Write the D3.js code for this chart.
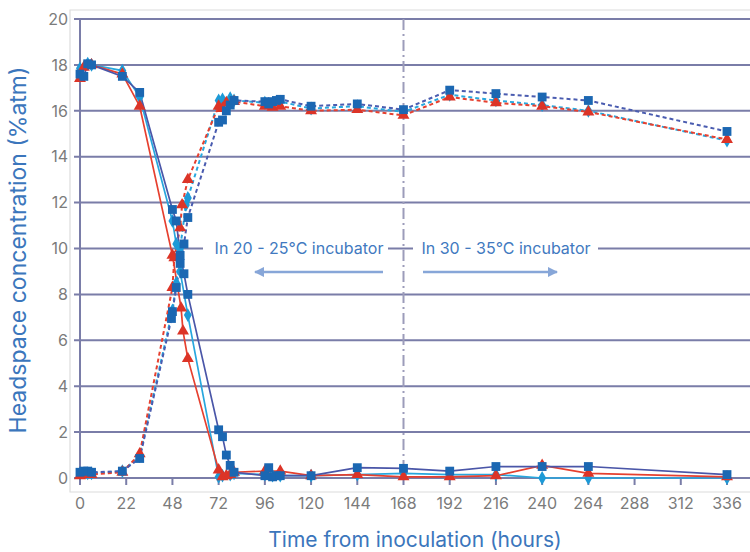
<!DOCTYPE html>
<html>
<head>
<meta charset="utf-8">
<style>
  body { margin: 0; background: #fff; font-family: Inter, "Noto Sans", sans-serif; }
  .grid line { stroke: #7a7da8; stroke-width: 2px; }
  .tick-label { fill: #7b7b7b; font-size: 16px; }
  .axis-title { fill: #3b76bc; font-size: 21px; }
  .note { fill: #4179c0; font-size: 16px; }
</style>
</head>
<body>
<script src="https://cdnjs.cloudflare.com/ajax/libs/d3/7.8.5/d3.min.js"></script>
<script>
// time (hours), concentration (%atm)
var blueO2 = [[0,17.6],[2,17.5],[4,18.05],[6,18.0],[22,17.5],[31,16.8],[48,11.7],[50,11.2],[52,9.7],[54,8.9],[56,8.0],
  [72,2.1],[74,1.8],[76,1.0],[78,0.55],[80,0.25],[96,0.1],[98,0.45],[100,0.05],[102,0.1],[104,0.1],[120,0.1],
  [144,0.45],[168,0.42],[192,0.3],[216,0.5],[240,0.5],[264,0.5],[336,0.15]];
var redO2 = [[0,17.4],[2,17.9],[6,18.0],[22,17.6],[31,16.2],[48,9.7],[52.5,7.4],[53.5,6.4],[56,5.2],
  [72,0.35],[74,0.05],[76,0.1],[78,0.15],[80,0.25],[96,0.3],[104,0.3],[120,0.1],[144,0.15],[168,0.05],
  [192,0.05],[216,0.1],[240,0.55],[264,0.2],[336,0.05]];
var cyanO2 = [[0,17.85],[4,18.05],[6,18.0],[22,17.75],[31,16.6],[48,11.2],[50,10.2],[52,9.0],[56,7.1],
  [72,0.05],[74,0.1],[78,0.15],[80,0.2],[96,0.15],[100,0.1],[104,0.1],[120,0.1],[144,0.15],[168,0.2],
  [192,0.15],[216,0.15],[240,0.0],[264,0.0],[336,0.0]];
var blueCO2 = [[0,0.25],[2,0.3],[4,0.3],[6,0.25],[22,0.3],[31,0.85],[47.5,6.95],[48,7.25],[50,8.3],[52,9.35],[54,10.2],[56,11.35],
  [72,15.5],[74,15.6],[76,16.0],[78,16.25],[80,16.45],[96,16.4],[98,16.3],[100,16.4],[102,16.45],[104,16.5],
  [120,16.2],[144,16.3],[168,16.05],[192,16.9],[216,16.75],[240,16.6],[264,16.45],[336,15.1]];
var redCO2 = [[0,0.1],[2,0.15],[6,0.15],[22,0.25],[31,1.05],[48,8.3],[49,9.6],[52,10.9],[53,11.9],[56,13.0],
  [72,16.2],[74,16.1],[76,16.35],[80,16.4],[96,16.2],[100,16.15],[104,16.2],[120,16.0],[144,16.05],[168,15.8],
  [192,16.6],[216,16.35],[240,16.2],[264,15.95],[336,14.75]];
var cyanCO2 = [[0,0.2],[4,0.2],[6,0.2],[22,0.3],[31,0.95],[48,7.3],[50,8.5],[52,10.0],[55,11.9],[56,12.2],
  [72,16.45],[74,16.5],[78,16.55],[80,16.45],[96,16.35],[100,16.3],[104,16.4],[120,16.1],[144,16.2],[168,15.95],
  [192,16.7],[216,16.45],[240,16.25],[264,16.0],[336,14.7]];

var xTicks = [0,24,48,72,96,120,144,168,192,216,240,264,288,312,336];
var xTickLabels = ["0","22","48","72","96","120","144","168","192","216","240","264","288","312","336"];
var yTicks = [0,2,4,6,8,10,12,14,16,18,20];
var switchHour = 168;

var width = 750, height = 552;

var svg = d3.select("body").append("svg")
    .attr("width", width)
    .attr("height", height);

var x = d3.scaleLinear().domain([0, 336]).range([80, 727]);
var y = d3.scaleLinear().domain([0, 20]).range([478, 19]);

// light frame round the chart area
svg.append("path")
    .attr("d", "M750,10H70V492H750")
    .attr("fill", "none")
    .attr("stroke", "#dcdcdc")
    .attr("stroke-width", 1.2);

// horizontal grid
svg.append("g").attr("class", "grid")
  .selectAll("line").data(yTicks).enter().append("line")
    .attr("x1", 74).attr("x2", width)
    .attr("y1", function(d){ return y(d); })
    .attr("y2", function(d){ return y(d); });

// y axis line and x ticks
svg.append("line")
    .attr("x1", x(0)).attr("x2", x(0))
    .attr("y1", y(20)).attr("y2", y(0))
    .attr("stroke", "#7a7da8").attr("stroke-width", 2);

svg.append("g").attr("class", "grid")
  .selectAll("line").data(xTicks).enter().append("line")
    .attr("x1", function(d){ return x(d); })
    .attr("x2", function(d){ return x(d); })
    .attr("y1", y(0)).attr("y2", y(0) + 7);

svg.append("g").selectAll("text").data(yTicks).enter().append("text")
    .attr("class", "tick-label")
    .attr("x", 68)
    .attr("y", function(d){ return y(d); })
    .attr("dy", "0.36em")
    .attr("text-anchor", "end")
    .text(function(d){ return d; });

svg.append("g").selectAll("text").data(xTicks).enter().append("text")
    .attr("class", "tick-label")
    .attr("x", function(d){ return x(d); })
    .attr("y", 509)
    .attr("text-anchor", "middle")
    .text(function(d, i){ return xTickLabels[i]; });

svg.append("text")
    .attr("class", "axis-title")
    .attr("x", 415).attr("y", 547)
    .attr("text-anchor", "middle")
    .text("Time from inoculation (hours)");

svg.append("text")
    .attr("class", "axis-title")
    .attr("transform", "translate(26,250) rotate(-90)")
    .attr("text-anchor", "middle")
    .style("font-size", "23px")
    .text("Headspace concentration (%atm)");

// incubator change
svg.append("line")
    .attr("x1", x(switchHour)).attr("x2", x(switchHour))
    .attr("y1", y(20)).attr("y2", y(0))
    .attr("stroke", "#9c9cba")
    .attr("stroke-width", 2)
    .attr("stroke-dasharray", "11,4,2,4");

function note(txt, cx, x0, x1){
  svg.append("rect")
      .attr("x", x0).attr("y", y(10) - 10)
      .attr("width", x1 - x0).attr("height", 20)
      .attr("fill", "#fff");
  svg.append("text")
      .attr("class", "note")
      .attr("x", cx).attr("y", y(10))
      .attr("dy", "0.36em")
      .attr("text-anchor", "middle")
      .text(txt);
}
note("In 20 - 25°C incubator", 299, 203, 388);
note("In 30 - 35°C incubator", 506, 413, 598);

svg.append("defs").append("marker")
    .attr("id", "head")
    .attr("viewBox", "0 0 10 10")
    .attr("refX", 9).attr("refY", 5)
    .attr("markerWidth", 4).attr("markerHeight", 4)
    .attr("orient", "auto")
  .append("path")
    .attr("d", "M0,0L10,5L0,10Z")
    .attr("fill", "#87a6d8");

[[383, 255], [423, 557]].forEach(function(a){
  svg.append("line")
      .attr("x1", a[0]).attr("x2", a[1])
      .attr("y1", 272).attr("y2", 272)
      .attr("stroke", "#87a6d8")
      .attr("stroke-width", 2.6)
      .attr("marker-end", "url(#head)");
});

var line = d3.line()
    .x(function(d){ return x(d[0]); })
    .y(function(d){ return y(d[1]); });

var series = [
  {data: cyanO2,  line: "#27a7de", mark: "#1d9ad7", shape: d3.symbolDiamond,  size: 55, dash: null},
  {data: cyanCO2, line: "#27a7de", mark: "#1d9ad7", shape: d3.symbolDiamond,  size: 55, dash: "4,3"},
  {data: redO2,   line: "#e6402f", mark: "#dc3427", shape: d3.symbolTriangle, size: 62, dash: null},
  {data: redCO2,  line: "#e6402f", mark: "#dc3427", shape: d3.symbolTriangle, size: 62, dash: "4,3"},
  {data: blueO2,  line: "#4a56a8", mark: "#1b67b2", shape: d3.symbolSquare,   size: 78, dash: null},
  {data: blueCO2, line: "#4a5cb0", mark: "#1b67b2", shape: d3.symbolSquare,   size: 78, dash: "4,3"}
];

series.forEach(function(s){
  svg.append("path")
      .datum(s.data)
      .attr("d", line)
      .attr("fill", "none")
      .attr("stroke", s.line)
      .attr("stroke-width", s.dash ? 2 : 1.7)
      .attr("stroke-dasharray", s.dash);
});

series.forEach(function(s){
  svg.append("g").selectAll("path").data(s.data).enter().append("path")
      .attr("transform", function(d){ return "translate(" + x(d[0]) + "," + y(d[1]) + ")"; })
      .attr("d", d3.symbol().type(s.shape).size(s.size))
      .attr("fill", s.mark);
});
</script>
</body>
</html>
